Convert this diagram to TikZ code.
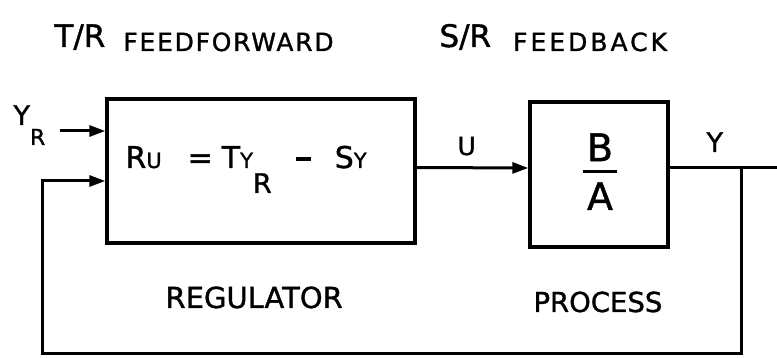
\documentclass[tikz,border=0pt]{standalone}
\usepackage{amsmath}
\usepackage{fontspec}
\setmainfont{DejaVu Sans}[FakeBold=1.2]
\usetikzlibrary{arrows.meta}
\newcommand{\fsz}[1]{\fontsize{#1}{#1}\selectfont}
\newcommand{\smc}[1]{{\fsz{21}#1}}

\begin{document}
\begin{tikzpicture}[x=1pt,y=-1pt,line width=3pt,
  blk/.style={draw,line width=3.4pt,inner sep=0pt},
  sig/.style={-{Triangle[length=16pt,width=11pt]}},
  lbl/.style={inner sep=0pt,anchor=base west}]
  \useasboundingbox (0,0) rectangle (777,358);

  % titles
  \node[lbl] (fflbl) at (53,47) {\fsz{31}T/R\hspace{18pt}\raisebox{-4pt}{\fsz{25}\addfontfeature{LetterSpace=7}FEEDFORWARD}};
  \node[lbl] (fblbl) at (438,47) {\fsz{31}S/R\hspace{22pt}\raisebox{-4pt}{\fsz{25}\addfontfeature{LetterSpace=12}FEEDBACK}};

  % blocks
  \node[blk,minimum width=308pt,minimum height=144pt] (reg) at (261,171) {};
  \node[blk,minimum width=138pt,minimum height=145pt] (proc) at (599,174.5) {};
  \node[lbl,font=\fsz{30}] (law) at (124,168)
    {R\smc{U}\hspace{26pt}=\hspace{9pt}T\smc{Y}\raisebox{-25pt}{\fsz{27}R}\hspace{24pt}\rule[7pt]{15pt}{3.5pt}\hspace{24pt}S\smc{Y}};
  \node[inner sep=0pt,anchor=base,font=\fsz{38}] (tf) at (600,178)
    {$\genfrac{}{}{3pt}{0}{\hbox{\hspace{4pt}B\hspace{4pt}}}{\hbox{A}}$};

  % block names
  \node[lbl,font=\fsz{29}] (reglbl) at (164,308) {REGULATOR};
  \node[lbl,font=\fsz{27.5}] (proclbl) at (532,312) {PROCESS};

  % signals
  \node[lbl,font=\fsz{27}] (yr) at (12,125) {Y\raisebox{-20pt}{\fsz{22}R}};
  \node[lbl,font=\fsz{25}] (ulbl) at (456,155) {U};
  \node[lbl,font=\fsz{27}] (ylbl) at (705,152) {Y};

  \coordinate (yrtail) at (60,131);
  \coordinate (yout) at (777,168);
  \coordinate (tap) at (741,168);
  \coordinate (back) at (42,353);

  \draw[sig] (yrtail) -- (yrtail -| reg.west);
  \draw[sig] ([yshift=3.5pt]reg.east) -- ([yshift=6.5pt]proc.west);
  \draw ([yshift=6.5pt]proc.east) -- (yout);
  \draw[sig] (tap) |- (back) |- ([yshift=-10pt]reg.west);
\end{tikzpicture}
\end{document}
